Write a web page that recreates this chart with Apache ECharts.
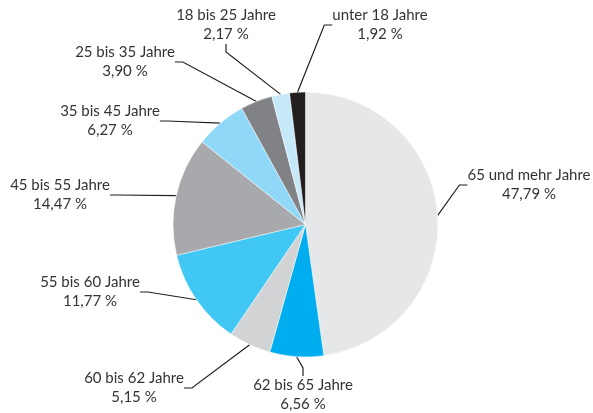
<!DOCTYPE html>
<html><head><meta charset="utf-8">
<script src="https://cdn.jsdelivr.net/npm/echarts@6/dist/echarts.min.js"></script>
<style>html,body{margin:0;padding:0;background:#fff}#c{width:593px;height:413px}</style>
</head><body><div id="c"></div>
<script>
var categories = ['65 und mehr Jahre','62 bis 65 Jahre','60 bis 62 Jahre','55 bis 60 Jahre','45 bis 55 Jahre','35 bis 45 Jahre','25 bis 35 Jahre','18 bis 25 Jahre','unter 18 Jahre'];
var values = [47.79, 6.56, 5.15, 11.77, 14.47, 6.27, 3.90, 2.17, 1.92];
var colors = ['#e6e7e8','#00aeef','#d1d3d4','#41c7f4','#a7a9ac','#8fd8f8','#808285','#c6e9fa','#231f20'];
// label centre positions (layout only)
var labelPos = [[529,185],[303,395],[134,388],[90,292],[60,195],[110,121],[125,62],[226,25],[380,25]];

var chart = echarts.init(document.getElementById('c'), null, {renderer:'canvas'});
var data = categories.map(function(c,i){ return {name:c, value:values[i], itemStyle:{color:colors[i]}}; });
chart.setOption({
  animation:false,
  series:[{
    type:'pie',
    center:[305.5,224.5],
    radius:[0,132.5],
    startAngle:90,
    clockwise:true,
    data:data,
    itemStyle:{borderColor:'#ffffff',borderWidth:0.5},
    label:{
      show:true,
      formatter:function(p){ return p.name + '\n' + p.value.toFixed(2).replace('.',',') + ' %'; },
      fontFamily:'Lato',
      fontSize:15,
      lineHeight:19,
      color:'#333333',
      align:'center',
      overflow:'none'
    },
    labelLine:{show:true,length:10,length2:8,lineStyle:{color:'#231f20',width:1.2}},
    labelLayout:function(p){
      var pos = labelPos[p.dataIndex];
      return {x:pos[0], y:pos[1], align:'center', verticalAlign:'middle'};
    }
  }]
});
</script></body></html>
